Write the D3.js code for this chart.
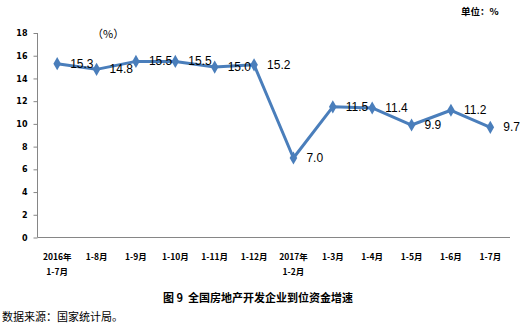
<!DOCTYPE html>
<html><head><meta charset="utf-8">
<script src="https://cdn.jsdelivr.net/npm/d3@7"></script>
<style>body{margin:0;background:#fff}svg{display:block}text{white-space:pre}</style>
</head><body>
<svg id="c" width="524" height="327"></svg>
<script>
const categories = [["2016年","1-7月"],["1-8月"],["1-9月"],["1-10月"],["1-11月"],["1-12月"],["2017年","1-2月"],["1-3月"],["1-4月"],["1-5月"],["1-6月"],["1-7月"]];
const values = [15.3,14.8,15.5,15.5,15.0,15.2,7.0,11.5,11.4,9.9,11.2,9.7];
const yTicks = [0,2,4,6,8,10,12,14,16,18];
const title = "图 9  全国房地产开发企业到位资金增速";
const source = "数据来源：国家统计局。";
const unitText = "单位：%";
const pctText = "（%）";

const svg = d3.select("#c");
const mLeft = 37.5, mRight = 510, mTop = 33, mBottom = 237.5;
const x = d3.scaleBand().domain(d3.range(categories.length)).range([mLeft, mRight]);
const y = d3.scaleLinear().domain([0, 18]).range([mBottom, mTop]);
const color = "#4A7EBB";
const cjk = "'Noto Sans CJK SC', sans-serif";

// y axis
const ya = svg.append("g").attr("transform", `translate(${mLeft},0)`)
  .call(d3.axisLeft(y).tickValues(yTicks).tickSize(4).tickPadding(6).tickFormat(d3.format("d")));
ya.select(".domain").attr("stroke", "#868686").attr("d", `M0,${mTop}V${mBottom}`);
ya.selectAll(".tick line").attr("stroke", "#868686");
ya.selectAll("text").attr("font-family", "'DejaVu Sans', sans-serif").attr("font-weight", "bold").attr("font-size", 8).attr("fill", "#000");

// x axis
const xa = svg.append("g").attr("transform", `translate(0,${mBottom})`)
  .call(d3.axisBottom(x).tickSize(0).tickFormat(""));
xa.select(".domain").attr("stroke", "#868686").attr("d", `M${mLeft},0H${mRight}`);
xa.selectAll(".tick").each(function(d) {
  const t = d3.select(this).select("text").attr("y", 0).attr("dy", null)
    .attr("font-family", cjk).attr("font-weight", "bold").attr("font-size", 8.5).attr("fill", "#000");
  categories[d].forEach((s, i) => t.append("tspan").attr("x", 0).attr("y", 22 + i * 15).text(s));
});

// line
const cx = i => x(i) + x.bandwidth() / 2;
svg.append("path").datum(values)
  .attr("fill", "none").attr("stroke", color).attr("stroke-width", 3).attr("stroke-linejoin", "round")
  .attr("d", d3.line().x((d, i) => cx(i)).y(d => y(d)));

svg.append("g").selectAll("path").data(values).join("path")
  .attr("transform", (d, i) => `translate(${cx(i)},${y(d)})`)
  .attr("d", d3.symbol(d3.symbolDiamond, 50))
  .attr("fill", color);

svg.append("g").selectAll("text").data(values).join("text")
  .attr("x", (d, i) => cx(i) + 13).attr("y", d => y(d) + 4)
  .attr("font-family", "'Liberation Sans', Arial, sans-serif").attr("font-size", 12).attr("fill", "#000")
  .text(d => d.toFixed(1));

svg.append("text").attr("x", 92).attr("y", 38).attr("font-family", cjk).attr("font-size", 11).text(pctText);
svg.append("text").attr("x", 461).attr("y", 15).attr("font-family", cjk).attr("font-weight", "bold").attr("font-size", 9.5).text(unitText);
svg.append("text").attr("x", 258).attr("y", 302).attr("text-anchor", "middle").attr("font-family", cjk).attr("font-weight", "bold").attr("font-size", 11).text(title);
svg.append("text").attr("x", 2).attr("y", 321).attr("font-family", cjk).attr("font-size", 11).text(source);
</script>
</body></html>
